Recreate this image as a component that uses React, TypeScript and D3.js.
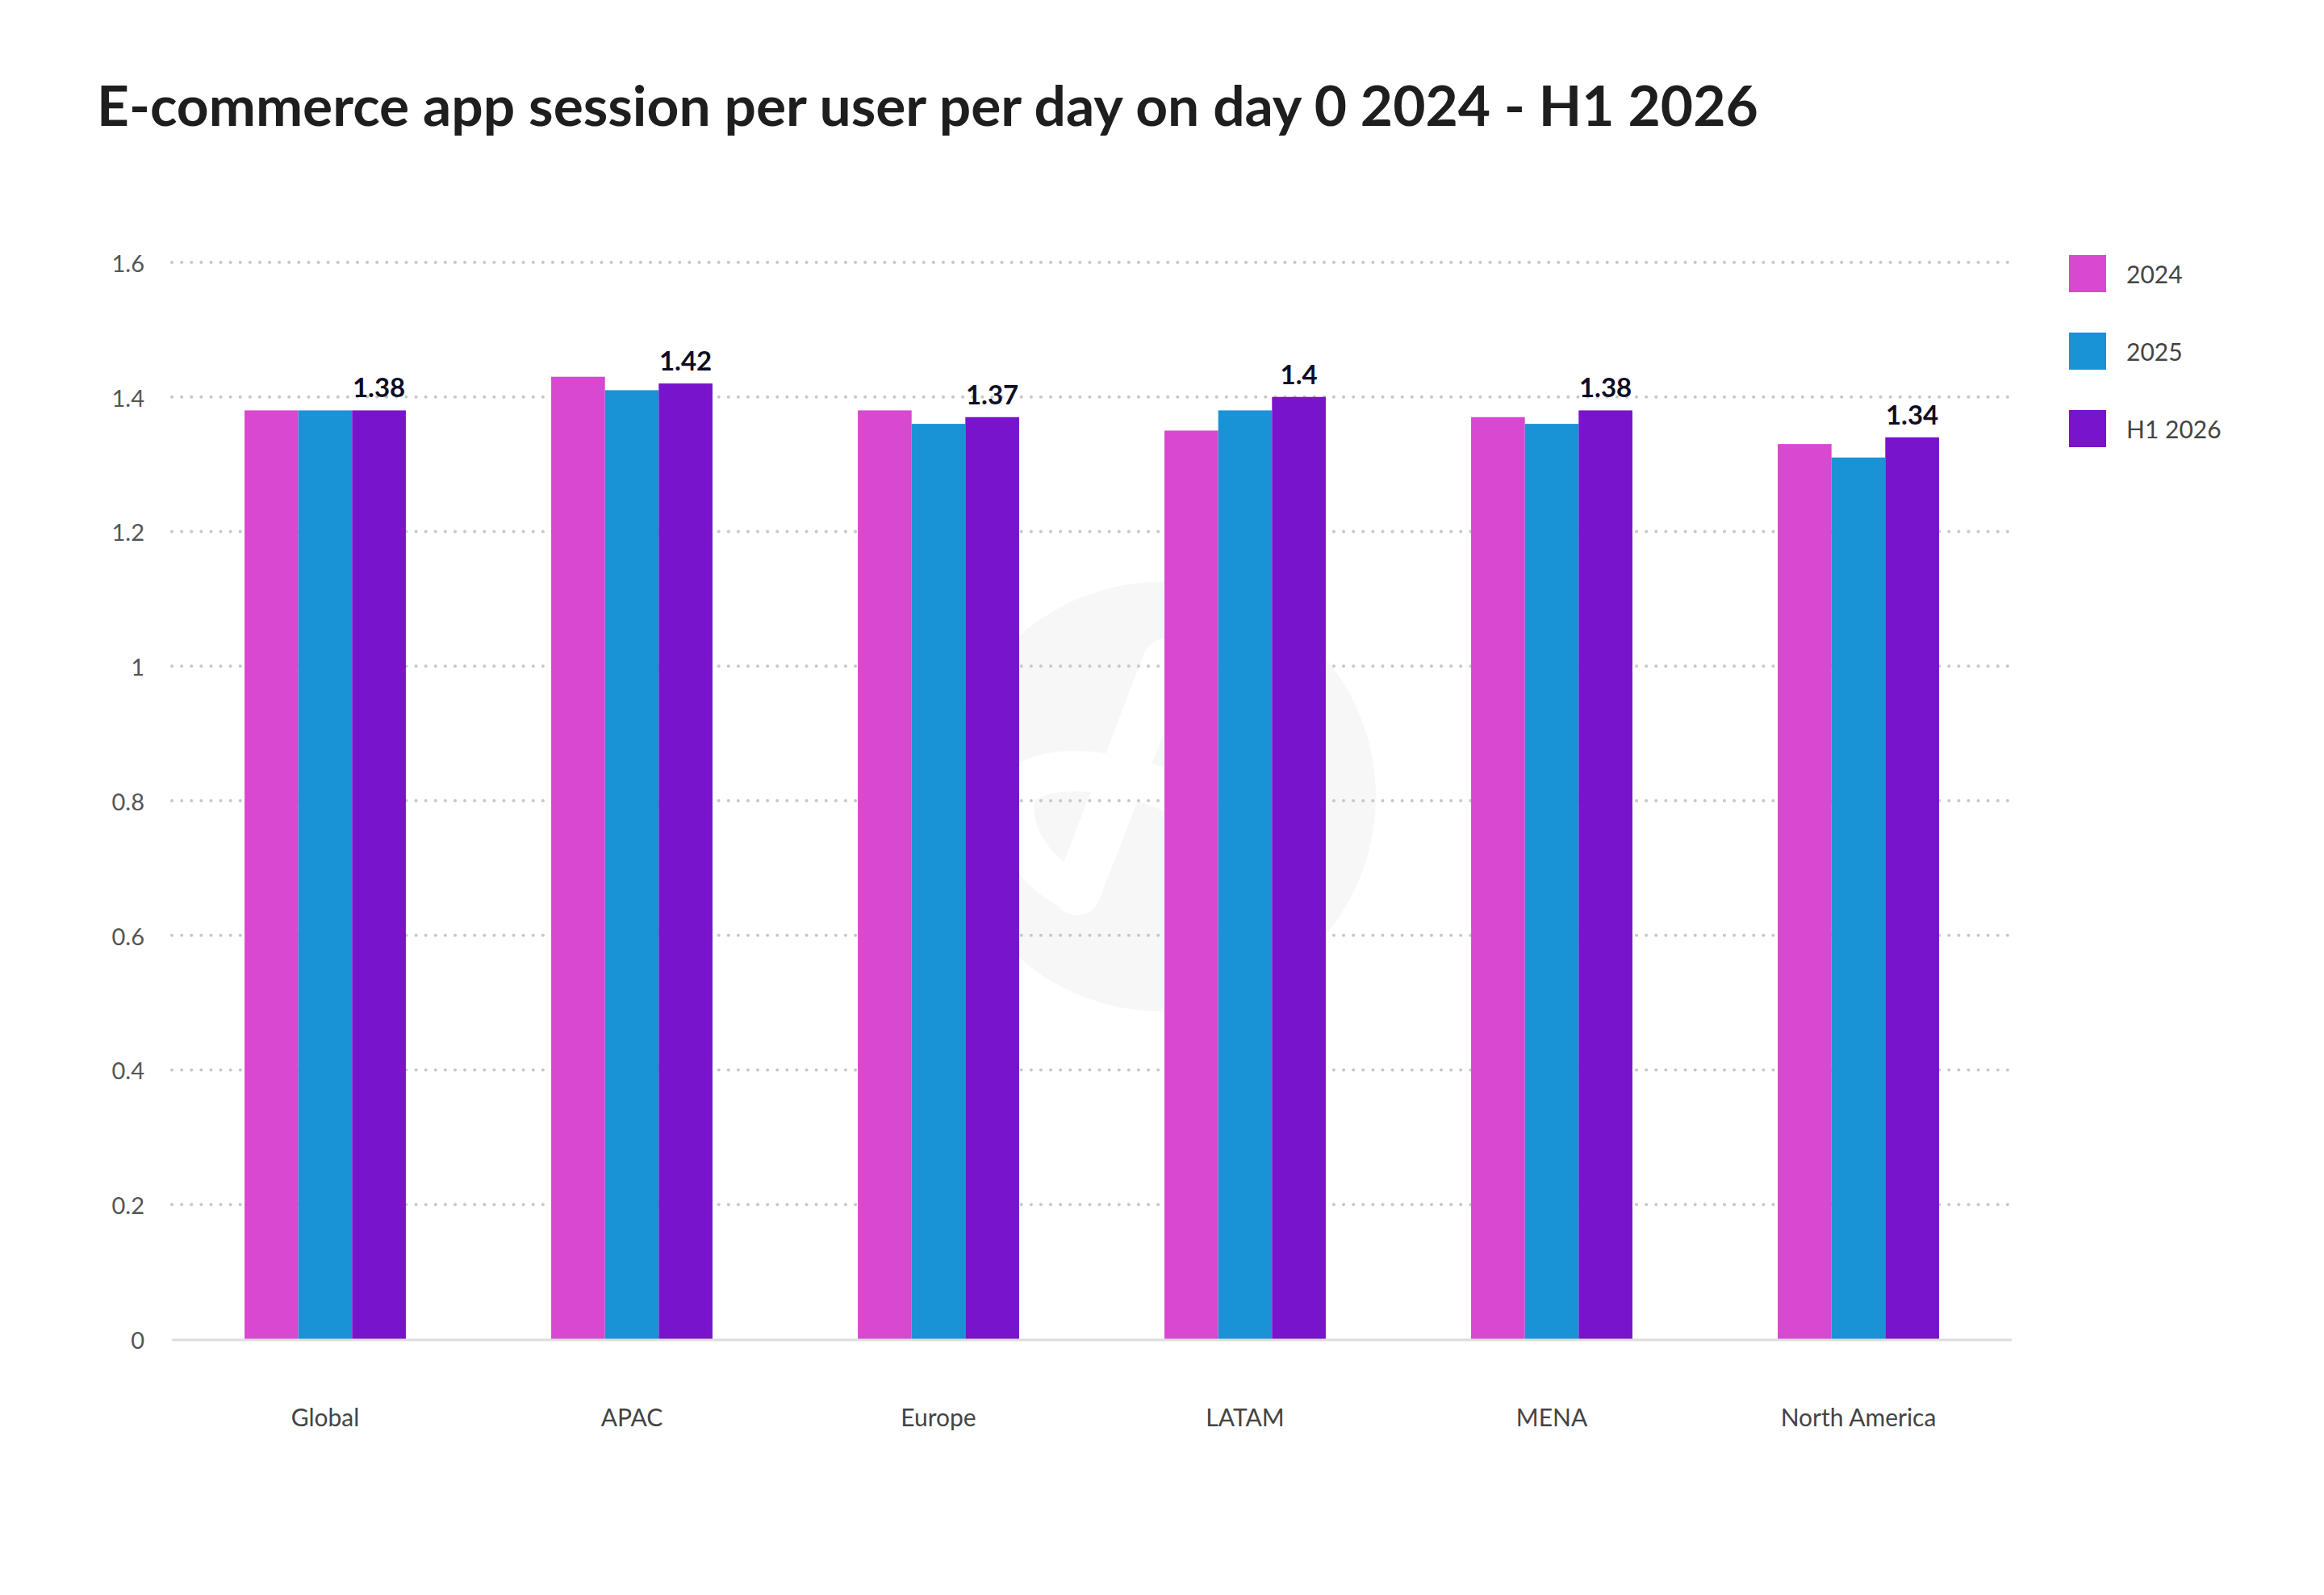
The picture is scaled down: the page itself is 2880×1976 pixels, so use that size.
import * as d3 from 'd3';
import React, { useEffect, useRef } from 'react';

const regions = ['Global', 'APAC', 'Europe', 'LATAM', 'MENA', 'North America'];
const seriesNames = ['2024', '2025', 'H1 2026'];
const values2024 = [1.38, 1.43, 1.38, 1.35, 1.37, 1.33];
const values2025 = [1.38, 1.41, 1.36, 1.38, 1.36, 1.31];
const valuesH12026 = [1.38, 1.42, 1.37, 1.4, 1.38, 1.34];
const yTicks = [0, 0.2, 0.4, 0.6, 0.8, 1, 1.2, 1.4, 1.6];
const colors = ['#d848d0', '#1993d6', '#7814cc'];

const W = 2880;
const H = 1976;
const FONT = 'Lato, "Open Sans", sans-serif';

const App: React.FC = () => {
  const svgRef = useRef<SVGSVGElement>(null);

  useEffect(() => {
    const svg = d3.select(svgRef.current);
    svg.selectAll('*').remove();

    const left = 213;
    const right = 2493;
    const top = 325;
    const bottom = 1659;

    const series = [values2024, values2025, valuesH12026];

    const x0 = d3.scaleBand<string>().domain(regions).range([left, right]).paddingInner(0.474).paddingOuter(0.237);
    const x1 = d3.scaleBand<string>().domain(seriesNames).range([0, x0.bandwidth()]);
    const y = d3.scaleLinear().domain([0, 1.6]).range([bottom, top]);

    // title
    svg
      .append('text')
      .attr('x', 120)
      .attr('y', 156)
      .attr('font-family', FONT)
      .attr('font-weight', 700)
      .attr('font-size', 69.5)
      .attr('fill', '#1e1e1e')
      .text('E-commerce app session per user per day on day 0 2024 - H1 2026');

    // watermark
    const wm = svg.append('g');
    wm.append('circle').attr('cx', 1439).attr('cy', 987).attr('r', 266).attr('fill', '#f7f7f7');
    wm.append('path')
      .attr('d', 'M1445,820 L1335,1105')
      .attr('stroke', '#fff')
      .attr('stroke-width', 58)
      .attr('stroke-linecap', 'round')
      .attr('fill', 'none');
    wm.append('path')
      .attr('d', 'M1262,975 C1300,945 1380,950 1460,985')
      .attr('stroke', '#fff')
      .attr('stroke-width', 50)
      .attr('fill', 'none');
    wm.append('path')
      .attr('d', 'M1262,975 C1240,1030 1290,1090 1335,1105')
      .attr('stroke', '#fff')
      .attr('stroke-width', 50)
      .attr('fill', 'none');

    // y axis
    const yAxis = svg
      .append('g')
      .attr('transform', `translate(${left},2)`)
      .call(
        d3
          .axisLeft(y)
          .tickValues(yTicks)
          .tickSize(0)
          .tickPadding(34)
          .tickFormat((d) => d3.format('~g')(d as number))
      );
    yAxis.select('.domain').remove();
    yAxis
      .selectAll('text')
      .attr('font-family', FONT)
      .attr('font-size', 29)
      .attr('fill', '#555');

    // gridlines
    svg
      .append('g')
      .selectAll('line')
      .data(yTicks.filter((t) => t > 0))
      .enter()
      .append('line')
      .attr('x1', left)
      .attr('x2', right)
      .attr('y1', (d) => y(d))
      .attr('y2', (d) => y(d))
      .attr('stroke', '#c8c8c8')
      .attr('stroke-width', 4)
      .attr('stroke-linecap', 'round')
      .attr('stroke-dasharray', '0.1,12');

    // bars
    const groups = svg
      .append('g')
      .selectAll('g')
      .data(regions)
      .enter()
      .append('g')
      .attr('transform', (d) => `translate(${x0(d)},0)`);

    groups
      .selectAll('rect')
      .data((_, i) => series.map((s, k) => ({ key: seriesNames[k], value: s[i], k })))
      .enter()
      .append('rect')
      .attr('x', (d) => x1(d.key)!)
      .attr('width', x1.bandwidth())
      .attr('y', (d) => y(d.value))
      .attr('height', (d) => bottom - y(d.value))
      .attr('fill', (d) => colors[d.k]);

    // value labels on last series
    groups
      .append('text')
      .attr('x', x1('H1 2026')! + x1.bandwidth() / 2)
      .attr('y', (_, i) => y(valuesH12026[i]) - 16)
      .attr('text-anchor', 'middle')
      .attr('font-family', FONT)
      .attr('font-weight', 700)
      .attr('font-size', 33)
      .attr('fill', '#0d0d26')
      .text((_, i) => d3.format('~g')(valuesH12026[i]));

    // baseline
    svg
      .append('line')
      .attr('x1', left)
      .attr('x2', right)
      .attr('y1', bottom + 1)
      .attr('y2', bottom + 1)
      .attr('stroke', '#dddddd')
      .attr('stroke-width', 3);

    // x axis
    const xAxis = svg
      .append('g')
      .attr('transform', `translate(0,${bottom})`)
      .call(d3.axisBottom(x0).tickSize(0).tickPadding(87));
    xAxis.select('.domain').remove();
    xAxis
      .selectAll('text')
      .attr('font-family', FONT)
      .attr('font-size', 30)
      .attr('fill', '#444');

    // legend
    const legend = svg
      .append('g')
      .selectAll('g')
      .data(seriesNames)
      .enter()
      .append('g')
      .attr('transform', (_, i) => `translate(2564,${316 + i * 96})`);
    legend.append('rect').attr('width', 46).attr('height', 46).attr('fill', (_, i) => colors[i]);
    legend
      .append('text')
      .attr('x', 71)
      .attr('y', 27)
      .attr('dominant-baseline', 'middle')
      .attr('font-family', FONT)
      .attr('font-size', 30)
      .attr('fill', '#444')
      .text((d) => d);
  }, []);

  return (
    <svg
      ref={svgRef}
      width={W}
      height={H}
      style={{ position: 'absolute', left: 0, top: 0, display: 'block', background: '#fff' }}
    />
  );
};

export default App;
